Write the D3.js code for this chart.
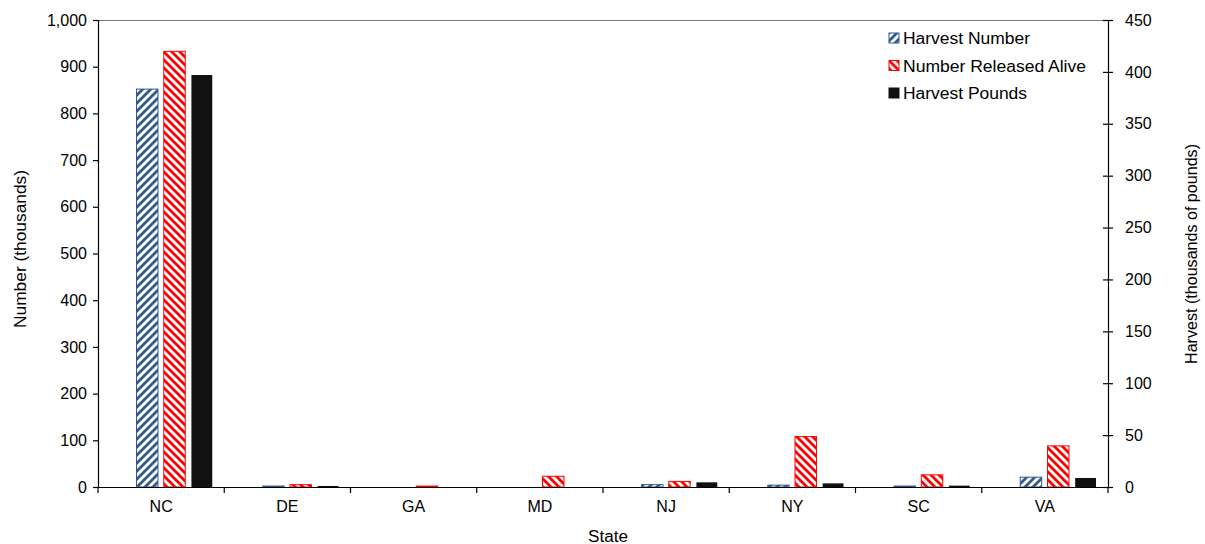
<!DOCTYPE html>
<html><head><meta charset="utf-8">
<script src="https://cdn.jsdelivr.net/npm/d3@7"></script>
<style>body{margin:0;background:#fff}svg{font-family:"Liberation Sans",Arial,sans-serif}</style>
</head><body><svg id="c" width="1205" height="544"></svg>
<script>
const states = ["NC","DE","GA","MD","NJ","NY","SC","VA"];
const harvestNumber = [852, 2, 0, 0, 5, 4, 2, 21];
const releasedAlive = [933, 5, 2, 23, 12, 108, 26, 88];
const harvestPounds = [397, 1, 0, 0, 4.5, 3.5, 1.3, 8.7];
const leftTicks = [0,100,200,300,400,500,600,700,800,900,1000];
const rightTicks = [0,50,100,150,200,250,300,350,400,450];
const seriesNames = ["Harvest Number","Number Released Alive","Harvest Pounds"];

const svg = d3.select("#c");
const L = 98, R = 1108, T = 20, B = 487;
const x = d3.scaleBand().domain(states).range([L, R]);
const yL = d3.scaleLinear().domain([0, 1000]).range([B, T]);
const yR = d3.scaleLinear().domain([0, 450]).range([B, T]);

const defs = svg.append("defs");
function stripe(id, color, dir){
  const p = defs.append("pattern").attr("id", id).attr("patternUnits","userSpaceOnUse")
    .attr("width", 8).attr("height", 8);
  p.append("rect").attr("width",8).attr("height",8).attr("fill","#fff");
  const d = dir > 0 ? "M-2,2 L2,-2 M0,8 L8,0 M6,10 L10,6" : "M-2,6 L2,10 M0,0 L8,8 M6,-2 L10,2";
  p.append("path").attr("d", d).attr("stroke", color).attr("stroke-width", 2.8);
}
stripe("pBlue", "#2f5a8e", 1);
stripe("pRed", "#ff0000", -1);

svg.append("line").attr("x1",L).attr("x2",R).attr("y1",T+0.5).attr("y2",T+0.5).attr("stroke","#777").attr("stroke-width",1.2);

const bw = x.bandwidth();
const g = svg.append("g");
g.selectAll(".hn").data(states).enter().append("rect")
  .attr("x", (d)=> x(d) + bw*0.301 + 0.5).attr("width", bw*0.17)
  .attr("y", (d,i)=> yL(harvestNumber[i])).attr("height", (d,i)=> B - yL(harvestNumber[i]))
  .attr("fill","url(#pBlue)").attr("stroke","#2f5a8e").attr("stroke-width",(d,i)=>harvestNumber[i]>0?1:0);
g.selectAll(".ra").data(states).enter().append("rect")
  .attr("x", (d)=> x(d) + bw*0.517 + 0.5).attr("width", bw*0.17)
  .attr("y", (d,i)=> yL(releasedAlive[i])).attr("height", (d,i)=> B - yL(releasedAlive[i]))
  .attr("fill","url(#pRed)").attr("stroke","#ff0000").attr("stroke-width",(d,i)=>releasedAlive[i]>0?1:0);
g.selectAll(".hp").data(states).enter().append("rect")
  .attr("x", (d)=> x(d) + bw*0.74).attr("width", bw*0.165)
  .attr("y", (d,i)=> yR(harvestPounds[i])).attr("height", (d,i)=> B - yR(harvestPounds[i]))
  .attr("fill","#111");

const fmt = d3.format(",");
const la = svg.append("g").attr("transform",`translate(${L},0)`)
  .call(d3.axisLeft(yL).tickValues(leftTicks).tickFormat(fmt).tickSizeOuter(0).tickSize(5).tickPadding(6));
const ra = svg.append("g").attr("transform",`translate(${R},0)`)
  .call(d3.axisRight(yR).tickValues(rightTicks).tickSizeOuter(0).tickSize(5).tickPadding(12));
ra.selectAll(".tick line").attr("x1",-5);
const xa = svg.append("g").attr("transform",`translate(0,${B})`)
  .call(d3.axisBottom(x).tickSize(0).tickPadding(14).tickSizeOuter(0));
const bounds = states.map(s=>x(s)).concat([R]);
svg.append("g").selectAll("line").data(bounds).enter().append("line")
  .attr("x1",d=>d).attr("x2",d=>d).attr("y1",B).attr("y2",B+6).attr("stroke","#000").attr("stroke-width",1.2);
[la,ra,xa].forEach(a=>{
  a.selectAll("path,line").attr("stroke","#000").attr("stroke-width",1.2);
  a.selectAll("text").attr("font-size",16).attr("fill","#000").attr("font-family","'Liberation Sans',Arial,sans-serif");
});

svg.append("text").attr("x",608).attr("y",542).attr("text-anchor","middle").attr("font-size",16)
  .attr("textLength",40).attr("lengthAdjust","spacingAndGlyphs").text("State");
svg.append("text").attr("transform","translate(26,249) rotate(-90)").attr("text-anchor","middle").attr("font-size",16)
  .attr("textLength",158).attr("lengthAdjust","spacingAndGlyphs").text("Number  (thousands)");
svg.append("text").attr("transform","translate(1197,254) rotate(-90)").attr("text-anchor","middle").attr("font-size",16)
  .attr("textLength",220).attr("lengthAdjust","spacingAndGlyphs").text("Harvest  (thousands of pounds)");

const fills = ["url(#pBlue)","url(#pRed)","#111"];
const strokes = ["#2f5a8e","#ff0000","#111"];
const lens = [127, 183, 124];
const lg = svg.append("g").selectAll("g").data(seriesNames).enter().append("g")
  .attr("transform",(d,i)=>`translate(889,${33 + i*27.5})`);
lg.append("rect").attr("width",10).attr("height",10).attr("fill",(d,i)=>fills[i]).attr("stroke",(d,i)=>strokes[i]);
lg.append("text").attr("x",14).attr("y",11).attr("font-size",16)
  .attr("textLength",(d,i)=>lens[i]).attr("lengthAdjust","spacingAndGlyphs").text(d=>d);
</script></body></html>
